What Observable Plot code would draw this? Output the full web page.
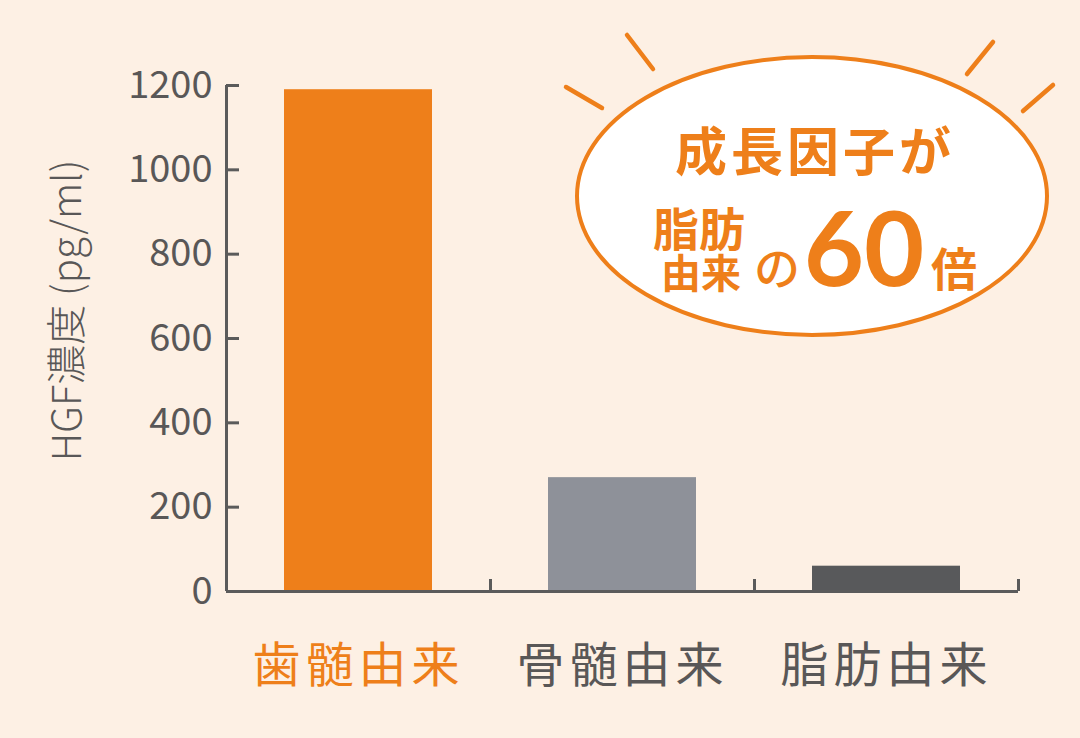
<!DOCTYPE html>
<html><head><meta charset="utf-8">
<script src="https://cdn.jsdelivr.net/npm/d3@7"></script>
<script src="https://cdn.jsdelivr.net/npm/@observablehq/plot@0.6"></script>
<style>
html,body{margin:0;padding:0;background:#fdf0e4;}
#chart{width:1080px;height:738px;}
</style></head><body><div id="chart"></div>
<script>
// ---- data ----
const categories = ["歯髄由来", "骨髄由来", "脂肪由来"];
const values = [1190, 270, 60];
const barColors = ["#ee7f1a", "#8e9199", "#58595b"];
const yTicks = [0, 200, 400, 600, 800, 1000, 1200];
const yLabel = "HGF濃度 (pg/ml)";
const calloutTitle = "成長因子が";
const calloutSource = ["脂肪", "由来"];
const calloutNo = "の";
const calloutRatio = "60";
const calloutUnit = "倍";

const table = categories.map((c, i) => ({category: c, value: values[i], color: barColors[i]}));

const orange = "#ee7f1a", textGray = "#595757", axisColor = "#5b5b5b";
const W = 1080, H = 738, mL = 226, mR = 62, mT = 85, mB = 147;
const plotH = H - mT - mB, plotW = W - mL - mR, step = plotW / categories.length;
const pin = 0.4394;
const font = "'Noto Sans CJK JP', 'Noto Sans', sans-serif";

const chart = Plot.plot({
  width: W, height: H,
  marginLeft: mL, marginRight: mR, marginTop: mT, marginBottom: mB,
  style: {background: "transparent", fontFamily: font, overflow: "visible"},
  x: {domain: categories, paddingInner: pin, paddingOuter: pin / 2, axis: null},
  y: {domain: [0, 1200], axis: null},
  color: {type: "identity"},
  marks: [
    Plot.barY(table, {x: "category", y: "value", fill: "color"}),
    // y axis line
    Plot.ruleX([categories[0]], {dx: -step / 2, y1: 0, y2: 1200, stroke: axisColor, strokeWidth: 3}),
    // inward y ticks
    Plot.ruleY(yTicks, {insetRight: plotW - 13, stroke: axisColor, strokeWidth: 3}),
    // baseline
    Plot.ruleY([0], {stroke: axisColor, strokeWidth: 3}),
    // category boundary ticks
    Plot.ruleX(categories, {dx: step / 2, insetTop: plotH - 12, stroke: axisColor, strokeWidth: 3}),
    Plot.axisY({ticks: yTicks, tickSize: 0, tickPadding: 14, fontSize: 38, fill: textGray, label: null, tickFormat: d => String(d)}),
    Plot.axisX({ticks: [categories[0]], tickSize: 0, tickPadding: 56, fontSize: 48, fill: orange, label: null}),
    Plot.axisX({ticks: categories.slice(1), tickSize: 0, tickPadding: 56, fontSize: 48, fill: textGray, label: null}),
    Plot.text([yLabel], {frameAnchor: "left", textAnchor: "middle", dx: -158, dy: -28, rotate: -90, fontSize: 40, fontWeight: 300, fill: textGray})
  ]
});

document.getElementById("chart").appendChild(chart);
const svg = d3.select(chart);
svg.selectAll('g[aria-label="x-axis tick label"] text').style("letter-spacing", "5px");

// ---- callout bubble ----
const g = svg.append("g").attr("class", "callout");
const rays = [[627, 35, 653, 69], [566, 87, 602, 108], [993, 42, 967, 74], [1053, 85, 1023, 111]];
g.selectAll("line").data(rays).join("line")
  .attr("x1", d => d[0]).attr("y1", d => d[1]).attr("x2", d => d[2]).attr("y2", d => d[3])
  .attr("stroke", orange).attr("stroke-width", 4.5).attr("stroke-linecap", "round");
g.append("ellipse").attr("cx", 812).attr("cy", 196).attr("rx", 235).attr("ry", 139)
  .attr("fill", "#ffffff").attr("stroke", orange).attr("stroke-width", 4);

function t(str, x, y, size, opts = {}) {
  return g.append("text").text(str).attr("x", x).attr("y", y)
    .attr("font-size", size).attr("font-weight", opts.weight || 700)
    .attr("font-family", opts.family || font)
    .attr("fill", orange).attr("text-anchor", "middle")
    .attr("dominant-baseline", opts.baseline || "central")
    .style("letter-spacing", opts.ls || "0px");
}
t(calloutTitle, 815, 148, 52, {ls: "4px"});
const src = g.append("text").attr("font-size", 44).attr("font-weight", 700).attr("font-family", font)
  .attr("fill", orange).attr("text-anchor", "middle").attr("dominant-baseline", "central");
src.append("tspan").text(calloutSource[0]).attr("x", 699).attr("y", 226).attr("font-size", 46);
src.append("tspan").text(calloutSource[1]).attr("x", 701).attr("y", 271).attr("font-size", 40);
t(calloutNo, 777, 265, 46, {weight: 500});
t(calloutRatio, 864, 286, 104, {baseline: "alphabetic", family: "Lato, 'Noto Sans', sans-serif"});
t(calloutUnit, 954, 266, 46);
</script>
</body></html>
